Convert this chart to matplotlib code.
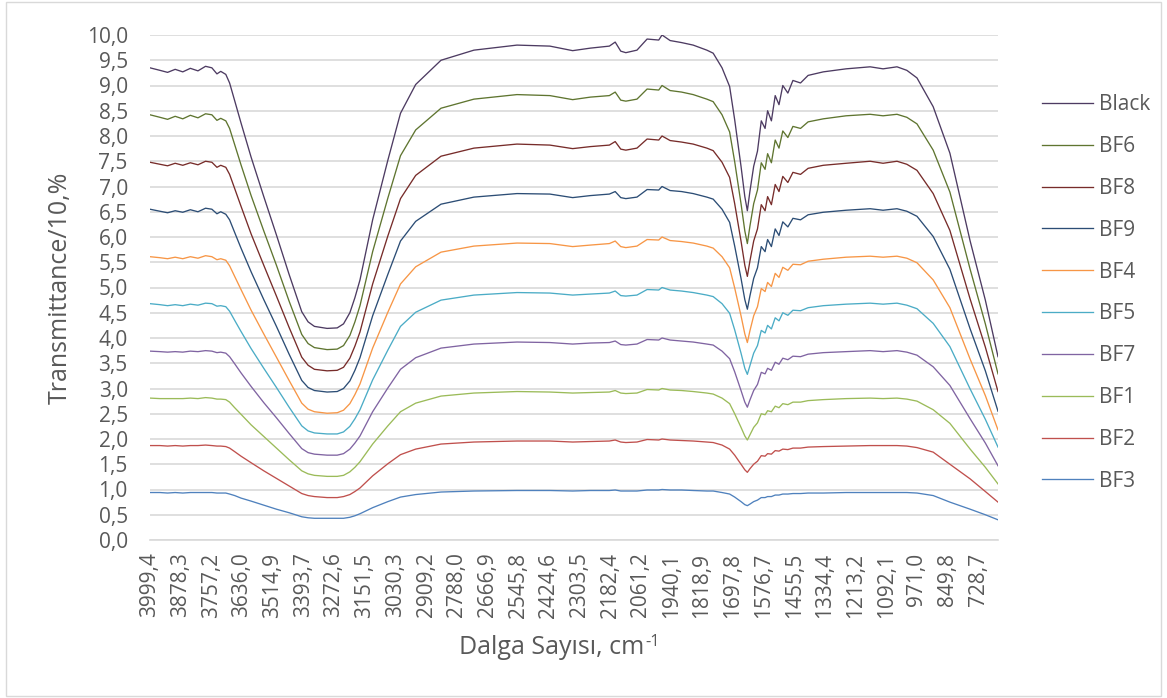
import matplotlib
matplotlib.use("Agg")
import matplotlib.pyplot as plt
from matplotlib.patches import Rectangle

plt.rcParams['font.family'] = ['Open Sans', 'DejaVu Sans']

wavenumber = [3999.4, 3960, 3930, 3900, 3870, 3840, 3810, 3780, 3755, 3735,
              3720, 3700, 3685, 3665, 3640, 3600, 3550, 3500, 3450, 3400,
              3375, 3350, 3300, 3260, 3235, 3210, 3190, 3170, 3120, 3060,
              3010, 2950, 2850, 2720, 2550, 2420, 2330, 2260, 2185, 2162,
              2140, 2120, 2076, 2036, 1990, 1977, 1945, 1900, 1854, 1800,
              1775, 1740, 1710, 1690, 1665, 1650, 1640, 1630, 1615, 1600,
              1585, 1570, 1560, 1545, 1530, 1515, 1500, 1480, 1460, 1430,
              1400, 1340, 1250, 1155, 1104, 1049, 1010, 970, 906, 840,
              760, 700, 650]

black = [9.35, 9.30, 9.26, 9.32, 9.27, 9.34, 9.29, 9.38, 9.35, 9.23,
         9.28, 9.22, 9.05, 8.70, 8.26, 7.58, 6.80, 6.04, 5.26, 4.52,
         4.32, 4.23, 4.19, 4.20, 4.28, 4.50, 4.80, 5.15, 6.34, 7.52,
         8.45, 9.02, 9.50, 9.70, 9.80, 9.78, 9.69, 9.74, 9.78, 9.86,
         9.68, 9.65, 9.70, 9.92, 9.90, 10.00, 9.89, 9.85, 9.80, 9.70,
         9.64, 9.35, 8.98, 8.32, 7.40, 6.80, 6.52, 6.90, 7.40, 7.70,
         8.30, 8.15, 8.50, 8.30, 8.80, 8.62, 9.00, 8.85, 9.10, 9.05,
         9.20, 9.27, 9.33, 9.37, 9.33, 9.37, 9.30, 9.15, 8.58, 7.66,
         5.92, 4.75, 3.63]

bf6 = [8.42, 8.37, 8.33, 8.39, 8.34, 8.41, 8.36, 8.44, 8.42, 8.31,
       8.35, 8.30, 8.15, 7.83, 7.43, 6.82, 6.12, 5.44, 4.73, 4.07,
       3.89, 3.81, 3.77, 3.78, 3.85, 4.05, 4.32, 4.64, 5.71, 6.77,
       7.61, 8.12, 8.55, 8.73, 8.82, 8.80, 8.72, 8.77, 8.80, 8.87,
       8.71, 8.69, 8.73, 8.93, 8.91, 9.00, 8.90, 8.87, 8.82, 8.73,
       8.68, 8.42, 8.08, 7.49, 6.66, 6.12, 5.87, 6.21, 6.66, 6.93,
       7.47, 7.34, 7.65, 7.47, 7.92, 7.76, 8.10, 7.97, 8.19, 8.15,
       8.28, 8.34, 8.40, 8.43, 8.40, 8.43, 8.37, 8.24, 7.72, 6.89,
       5.36, 4.28, 3.29]

bf8 = [7.48, 7.44, 7.41, 7.46, 7.42, 7.47, 7.43, 7.50, 7.48, 7.38,
       7.42, 7.38, 7.24, 6.96, 6.61, 6.06, 5.44, 4.83, 4.21, 3.62,
       3.46, 3.38, 3.35, 3.36, 3.42, 3.60, 3.84, 4.12, 5.07, 6.02,
       6.76, 7.22, 7.60, 7.76, 7.84, 7.82, 7.75, 7.79, 7.82, 7.89,
       7.74, 7.72, 7.76, 7.94, 7.92, 8.00, 7.91, 7.88, 7.84, 7.76,
       7.71, 7.48, 7.18, 6.66, 5.92, 5.44, 5.22, 5.52, 5.92, 6.16,
       6.64, 6.52, 6.80, 6.64, 7.04, 6.90, 7.20, 7.08, 7.28, 7.24,
       7.36, 7.42, 7.46, 7.50, 7.46, 7.50, 7.44, 7.32, 6.86, 6.13,
       4.77, 3.82, 2.94]

bf9 = [6.55, 6.51, 6.48, 6.52, 6.49, 6.54, 6.50, 6.57, 6.55, 6.46,
       6.50, 6.45, 6.34, 6.09, 5.78, 5.31, 4.76, 4.23, 3.68, 3.16,
       3.02, 2.96, 2.93, 2.94, 3.00, 3.15, 3.36, 3.61, 4.44, 5.26,
       5.92, 6.31, 6.65, 6.79, 6.86, 6.85, 6.78, 6.82, 6.85, 6.90,
       6.78, 6.76, 6.79, 6.94, 6.93, 7.00, 6.92, 6.90, 6.86, 6.79,
       6.75, 6.55, 6.29, 5.82, 5.18, 4.76, 4.57, 4.83, 5.18, 5.39,
       5.81, 5.71, 5.95, 5.81, 6.16, 6.03, 6.30, 6.20, 6.37, 6.34,
       6.44, 6.49, 6.53, 6.56, 6.53, 6.56, 6.51, 6.41, 6.01, 5.36,
       4.18, 3.35, 2.55]

bf4 = [5.61, 5.59, 5.57, 5.60, 5.57, 5.61, 5.58, 5.63, 5.61, 5.55,
       5.57, 5.54, 5.43, 5.22, 4.96, 4.55, 4.08, 3.62, 3.16, 2.71,
       2.59, 2.54, 2.51, 2.52, 2.57, 2.70, 2.88, 3.09, 3.80, 4.51,
       5.07, 5.41, 5.70, 5.82, 5.88, 5.87, 5.81, 5.84, 5.87, 5.92,
       5.81, 5.79, 5.82, 5.95, 5.94, 6.00, 5.93, 5.91, 5.88, 5.82,
       5.78, 5.61, 5.39, 4.99, 4.44, 4.08, 3.91, 4.14, 4.44, 4.62,
       4.98, 4.92, 5.10, 5.02, 5.28, 5.20, 5.40, 5.34, 5.46, 5.45,
       5.52, 5.56, 5.60, 5.62, 5.60, 5.62, 5.58, 5.49, 5.15, 4.60,
       3.58, 2.86, 2.18]

bf5 = [4.68, 4.66, 4.64, 4.66, 4.64, 4.67, 4.65, 4.69, 4.68, 4.63,
       4.64, 4.62, 4.53, 4.35, 4.13, 3.79, 3.40, 3.02, 2.63, 2.26,
       2.16, 2.12, 2.10, 2.10, 2.14, 2.25, 2.40, 2.58, 3.17, 3.76,
       4.23, 4.51, 4.75, 4.85, 4.90, 4.89, 4.85, 4.87, 4.89, 4.93,
       4.84, 4.83, 4.85, 4.96, 4.95, 5.00, 4.95, 4.93, 4.90, 4.85,
       4.82, 4.68, 4.49, 4.16, 3.70, 3.40, 3.28, 3.45, 3.70, 3.85,
       4.15, 4.10, 4.25, 4.18, 4.40, 4.34, 4.50, 4.45, 4.55, 4.54,
       4.60, 4.64, 4.67, 4.69, 4.67, 4.69, 4.65, 4.58, 4.29, 3.83,
       2.99, 2.39, 1.84]

bf7 = [3.74, 3.73, 3.72, 3.73, 3.72, 3.74, 3.73, 3.75, 3.74, 3.71,
       3.72, 3.70, 3.63, 3.49, 3.31, 3.04, 2.72, 2.42, 2.11, 1.81,
       1.73, 1.70, 1.68, 1.68, 1.71, 1.80, 1.92, 2.06, 2.54, 3.01,
       3.38, 3.61, 3.80, 3.88, 3.92, 3.91, 3.88, 3.90, 3.91, 3.94,
       3.87, 3.86, 3.88, 3.97, 3.96, 4.00, 3.96, 3.94, 3.92, 3.88,
       3.86, 3.74, 3.59, 3.33, 2.96, 2.73, 2.63, 2.77, 2.96, 3.08,
       3.32, 3.29, 3.40, 3.36, 3.52, 3.48, 3.60, 3.57, 3.64, 3.63,
       3.68, 3.71, 3.73, 3.75, 3.73, 3.75, 3.72, 3.66, 3.43, 3.06,
       2.40, 1.92, 1.47]

bf1 = [2.81, 2.80, 2.80, 2.80, 2.80, 2.81, 2.80, 2.82, 2.81, 2.79,
       2.79, 2.78, 2.73, 2.62, 2.49, 2.28, 2.05, 1.82, 1.59, 1.37,
       1.31, 1.28, 1.26, 1.26, 1.28, 1.35, 1.44, 1.55, 1.90, 2.26,
       2.54, 2.71, 2.85, 2.91, 2.94, 2.93, 2.91, 2.92, 2.93, 2.96,
       2.91, 2.90, 2.91, 2.98, 2.97, 3.00, 2.97, 2.96, 2.94, 2.91,
       2.89, 2.81, 2.70, 2.50, 2.23, 2.06, 1.98, 2.08, 2.23, 2.32,
       2.50, 2.48, 2.56, 2.54, 2.65, 2.62, 2.70, 2.68, 2.73, 2.73,
       2.76, 2.78, 2.80, 2.81, 2.80, 2.81, 2.79, 2.75, 2.58, 2.31,
       1.80, 1.44, 1.11]

bf2 = [1.87, 1.87, 1.86, 1.87, 1.86, 1.87, 1.87, 1.88, 1.87, 1.86,
       1.86, 1.85, 1.82, 1.75, 1.66, 1.53, 1.37, 1.22, 1.07, 0.92,
       0.88, 0.86, 0.84, 0.84, 0.86, 0.90, 0.96, 1.03, 1.27, 1.51,
       1.69, 1.80, 1.90, 1.94, 1.96, 1.96, 1.94, 1.95, 1.96, 1.98,
       1.94, 1.93, 1.94, 1.99, 1.98, 2.00, 1.98, 1.97, 1.96, 1.94,
       1.93, 1.88, 1.80, 1.68, 1.50, 1.39, 1.34, 1.41, 1.50, 1.56,
       1.67, 1.66, 1.71, 1.70, 1.77, 1.76, 1.80, 1.79, 1.82, 1.82,
       1.84, 1.85, 1.86, 1.87, 1.87, 1.87, 1.86, 1.83, 1.74, 1.50,
       1.21, 0.96, 0.75]

bf3 = [0.94, 0.94, 0.93, 0.94, 0.93, 0.94, 0.94, 0.94, 0.94, 0.93,
       0.93, 0.93, 0.91, 0.88, 0.83, 0.77, 0.69, 0.61, 0.54, 0.46,
       0.44, 0.43, 0.43, 0.43, 0.43, 0.45, 0.48, 0.52, 0.64, 0.76,
       0.85, 0.90, 0.95, 0.97, 0.98, 0.98, 0.97, 0.98, 0.98, 0.99,
       0.97, 0.97, 0.97, 0.99, 0.99, 1.00, 0.99, 0.99, 0.98, 0.97,
       0.97, 0.94, 0.91, 0.85, 0.76, 0.70, 0.68, 0.71, 0.76, 0.79,
       0.84, 0.84, 0.86, 0.86, 0.89, 0.89, 0.91, 0.91, 0.92, 0.92,
       0.93, 0.93, 0.94, 0.94, 0.94, 0.94, 0.94, 0.93, 0.88, 0.75,
       0.61, 0.50, 0.40]

# category ticks shown on the x axis
tick_values = [3999.4, 3878.3, 3757.2, 3636.0, 3514.9, 3393.7, 3272.6, 3151.5,
               3030.3, 2909.2, 2788.0, 2666.9, 2545.8, 2424.6, 2303.5, 2182.4,
               2061.2, 1940.1, 1818.9, 1697.8, 1576.7, 1455.5, 1334.4, 1213.2,
               1092.1, 971.0, 849.8, 728.7]
tick_labels = [f"{v:.1f}".replace(".", ",") for v in tick_values]

# plotted in Excel series order, legend shows them reversed
series = [("BF3", bf3, "#4F81BD"),
          ("BF2", bf2, "#C0504D"),
          ("BF1", bf1, "#9BBB59"),
          ("BF7", bf7, "#8064A2"),
          ("BF5", bf5, "#4BACC6"),
          ("BF4", bf4, "#F79646"),
          ("BF9", bf9, "#2C4D75"),
          ("BF8", bf8, "#772C2A"),
          ("BF6", bf6, "#5F7530"),
          ("Black", black, "#4D3B62")]

txt = "#595959"
fig = plt.figure(figsize=(11.67, 6.98), dpi=100)
ax = fig.add_axes([150 / 1167, 1 - 540 / 698, 848 / 1167, 505 / 698])

handles = []
for name, vals, col in series:
    h, = ax.plot(wavenumber, vals, color=col, lw=0.95, label=name)
    handles.append(h)

ax.set_xlim(3999.4, 650)
ax.set_ylim(0, 10)
ax.set_yticks([i * 0.5 for i in range(21)])
ax.set_yticklabels([f"{i * 0.5:.1f}".replace(".", ",") for i in range(21)])
ax.set_xticks(tick_values)
ax.set_xticklabels(tick_labels, rotation=90)
ax.tick_params(axis="both", length=0, labelsize=15, colors=txt)
ax.tick_params(axis="y", pad=16)
ax.tick_params(axis="x", pad=9)

ax.grid(axis="y", color="#D9D9D9", lw=1.2)
ax.set_axisbelow(True)
for s in ["top", "right", "left"]:
    ax.spines[s].set_visible(False)
ax.spines["bottom"].set_color("#D9D9D9")
ax.spines["bottom"].set_linewidth(1.2)

ax.set_ylabel("Transmittance/10,%", fontsize=18, color=txt, labelpad=10)

# x title with a plain "-1" superscript, as in the original
xt = fig.text((562 - 10) / 1167, 1 - 648 / 698, "Dalga Sayısı, cm", fontsize=18,
              color=txt, ha="center", va="center")
fig.canvas.draw()
bb = xt.get_window_extent()
fig.text((bb.x1 + 1) / 1167, (bb.y1 + 1) / 698, "-1", fontsize=12,
         color=txt, ha="left", va="top")

fig.legend(handles[::-1], [s[0] for s in series][::-1],
           loc="center left", bbox_to_anchor=(1042 / 1167, 1 - 293 / 698),
           frameon=False, fontsize=15, labelcolor=txt, handlelength=2.45,
           handletextpad=0.3, labelspacing=1.0, borderpad=0, borderaxespad=0)

# thin chart-area border like the Excel frame
fig.patches.append(Rectangle((6 / 1167, 2 / 698), 1155 / 1167, 694 / 698,
                             transform=fig.transFigure, fill=False,
                             edgecolor="#D9D9D9", lw=1.0))

fig.savefig("out.png", dpi=100)
